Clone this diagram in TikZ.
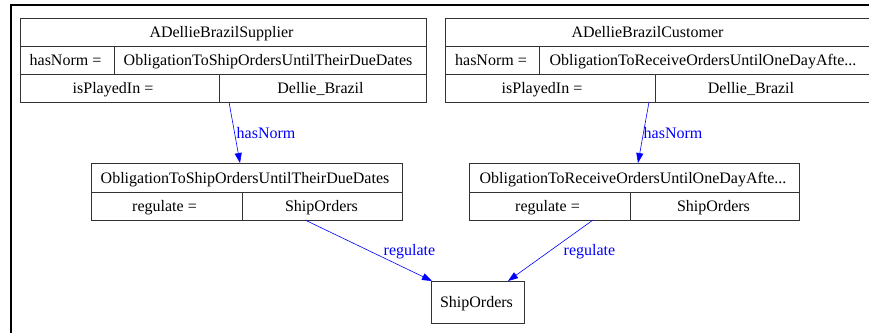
\documentclass[tikz,border=0pt]{standalone}
\usepackage{fontspec}
\setmainfont{Liberation Serif}
\usetikzlibrary{arrows.meta}
\tikzset{
  cell/.style={draw=black!80, line width=0.8pt, minimum height=28pt, inner sep=0pt, anchor=north west},
  txt/.style={font=\fontsize{16}{19}\selectfont, inner sep=0pt, anchor=base},
  elabel/.style={txt, text=blue},
  edgeline/.style={draw=blue, line width=0.6pt, -{Triangle[length=10pt,width=7pt]}},
  frameline/.style={draw=black, line width=2pt},
}
\begin{document}
\begin{tikzpicture}[x=1pt,y=-1pt]
\useasboundingbox (0,0) rectangle (869,333);
% frame
\coordinate (fa) at (11,333);
\coordinate (fb) at (11,5);
\coordinate (fc) at (869,5);
\draw[frameline] (fa) -- (fb) -- (fc);

% Supplier box
\node[cell, minimum width=406pt] (s1) at (20,18) {};
\node[cell, minimum width=94pt] (s2a) at (20,46) {};
\node[cell, minimum width=312pt] (s2b) at (114,46) {};
\node[cell, minimum width=199pt] (s3a) at (20,74) {};
\node[cell, minimum width=207pt] (s3b) at (219,74) {};
\node[txt] (s1t) at (221.5,37.5) {ADellieBrazilSupplier};
\node[txt] (s2at) at (65.5,65.5) {hasNorm =};
\node[txt] (s2bt) at (268,65.5) {ObligationToShipOrdersUntilTheirDueDates};
\node[txt] (s3at) at (113,93.5) {isPlayedIn =};
\node[txt] (s3bt) at (320.5,93.5) {Dellie\_Brazil};

% Customer box
\node[cell, minimum width=427pt] (c1) at (445,18) {};
\node[cell, minimum width=94pt] (c2a) at (445,46) {};
\node[cell, minimum width=333pt] (c2b) at (539,46) {};
\node[cell, minimum width=210pt] (c3a) at (445,74) {};
\node[cell, minimum width=217pt] (c3b) at (655,74) {};
\node[txt] (c1t) at (647.5,37.5) {ADellieBrazilCustomer};
\node[txt] (c2at) at (491,65.5) {hasNorm =};
\node[txt] (c2bt) at (703,65.5) {ObligationToReceiveOrdersUntilOneDayAfte...};
\node[txt] (c3at) at (542,93.5) {isPlayedIn =};
\node[txt] (c3bt) at (751,93.5) {Dellie\_Brazil};

% Middle left
\node[cell, minimum width=311pt, minimum height=29pt] (m1) at (91,163) {};
\node[cell, minimum width=151pt] (m1a) at (91,192) {};
\node[cell, minimum width=160pt] (m1b) at (242,192) {};
\node[txt] (m1t) at (245,183) {ObligationToShipOrdersUntilTheirDueDates};
\node[txt] (m1at) at (164.5,211.5) {regulate =};
\node[txt] (m1bt) at (321.5,211.5) {ShipOrders};

% Middle right
\node[cell, minimum width=330pt, minimum height=29pt] (n1) at (469,163) {};
\node[cell, minimum width=161pt] (n1a) at (469,192) {};
\node[cell, minimum width=169pt] (n1b) at (630,192) {};
\node[txt] (n1t) at (633,183) {ObligationToReceiveOrdersUntilOneDayAfte...};
\node[txt] (n1at) at (547.5,211.5) {regulate =};
\node[txt] (n1bt) at (713.5,211.5) {ShipOrders};

% Bottom
\node[cell, minimum width=93pt, minimum height=42pt] (b) at (431,281) {};
\node[txt] (bt) at (476.5,307.3) {ShipOrders};

% edges
\coordinate (e1a) at (229,102);
\coordinate (e1b) at (240,163);
\coordinate (e2a) at (649,102);
\coordinate (e2b) at (638,163);
\coordinate (e3a) at (305,220);
\coordinate (e3b) at (432,281);
\coordinate (e4a) at (593,220);
\coordinate (e4b) at (508,281);
\draw[edgeline] (e1a) -- (e1b);
\draw[edgeline] (e2a) -- (e2b);
\draw[edgeline] (e3a) -- (e3b);
\draw[edgeline] (e4a) -- (e4b);
\node[elabel] (l1) at (266,138.3) {hasNorm};
\node[elabel] (l2) at (673,138.3) {hasNorm};
\node[elabel] (l3) at (409.5,255) {regulate};
\node[elabel] (l4) at (589.5,255) {regulate};
\end{tikzpicture}
\end{document}
